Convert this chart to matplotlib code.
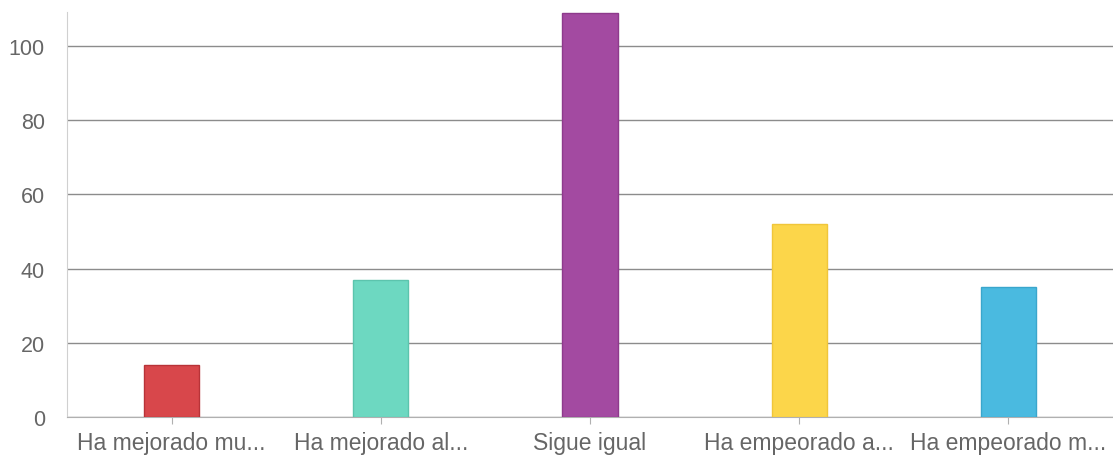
import matplotlib.pyplot as plt

categories = ["Ha mejorado mu...", "Ha mejorado al...", "Sigue igual",
              "Ha empeorado a...", "Ha empeorado m..."]
values = [14, 37, 109, 52, 35]
colors = ["#d8474b", "#6dd8c1", "#a34aa1", "#fcd64a", "#4abae0"]
edges = ["#b83338", "#5cc4ad", "#8e3a8c", "#f0c63a", "#3aa6cc"]

plt.rcParams["font.family"] = ["Liberation Sans", "DejaVu Sans"]

fig = plt.figure(figsize=(11.13, 4.6), dpi=100)
ax = fig.add_axes([67 / 1113, 42 / 460, 1046 / 1113, 405 / 460])

x = range(len(categories))
ax.bar(x, values, width=0.263, color=colors, edgecolor=edges, linewidth=1, zorder=3)

ax.set_xlim(-0.5, len(categories) - 0.5)
ax.set_ylim(0, 109.2)
ax.set_yticks([0, 20, 40, 60, 80, 100])
ax.set_xticks(list(x))
ax.set_xticklabels(categories)

ax.yaxis.grid(True, color="#8c8c8c", linewidth=1, zorder=0)
ax.set_axisbelow(True)

for side in ["top", "right"]:
    ax.spines[side].set_visible(False)
ax.spines["left"].set_color("#d0d0d0")
ax.spines["bottom"].set_color("#b0b0b0")

ax.tick_params(axis="y", length=0, pad=16, labelsize=15.5, labelcolor="#666666")
ax.tick_params(axis="x", length=5, color="#b0b0b0", pad=5, labelsize=16.5,
               labelcolor="#666666")

fig.savefig("out.png", dpi=100)
